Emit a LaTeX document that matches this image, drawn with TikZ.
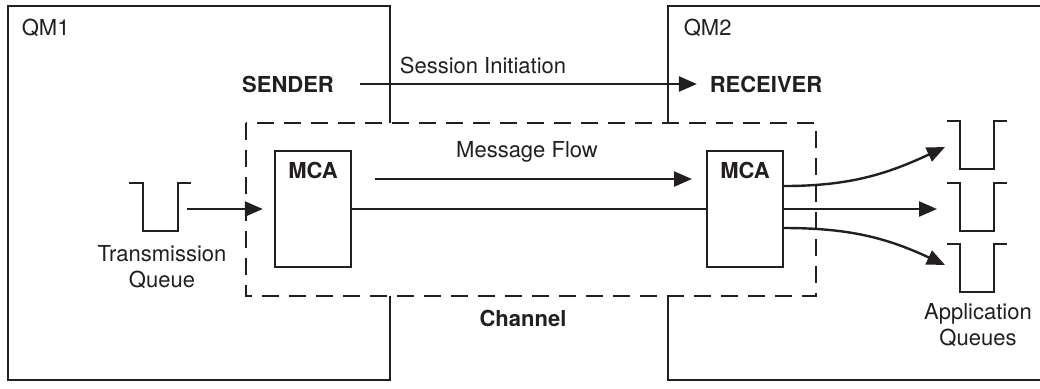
\documentclass[tikz,border=0pt]{standalone}
\usepackage{fontspec}
\setmainfont{TeX Gyre Heros}
\usepackage{tikz}
\usetikzlibrary{arrows.meta, positioning}
\usepackage{xcolor}
\definecolor{ink}{RGB}{35, 31, 32}

\begin{document}
\begin{tikzpicture}[x=0.5pt, y=-0.5pt, line width=1.2pt, ink,
    font=\fontsize{11}{13}\selectfont,
    >={Triangle[length=9pt, width=7.5pt]},
    mca/.style={draw, fill=white, minimum width=38pt, minimum height=58pt, inner sep=0pt},
    tag/.style={font=\fontsize{11}{13}\selectfont\bfseries},
    chan/.style={dash pattern=on 8.5pt off 5pt, fill=white}]
  \useasboundingbox (0,0) rectangle (1040,388);

  % Queue managers
  \draw (8,6) rectangle (390,380);
  \draw (1040,6) -- (668,6) -- (668,380) -- (1040,380);
  \node[anchor=west] (qm1) at (14,28) {QM1};
  \node[anchor=west] (qm2) at (676,28) {QM2};

  % Channel
  \draw[chan] (246,123) rectangle (816,296);
  \node[tag] (chLabel) at (523,318) {Channel};

  % Message channel agents
  \node[mca] (mcaL) at (313,209) {};
  \node[mca] (mcaR) at (745,209) {};
  \node[tag] (mcaLtag) at ([yshift=-10.5pt]mcaL.north) {MCA};
  \node[tag] (mcaRtag) at ([yshift=-10.5pt]mcaR.north) {MCA};
  \draw (mcaL.east) -- (mcaR.west);

  % Sender and receiver
  \node[tag] (sender) at (288,84) {SENDER};
  \node[tag] (receiver) at (766,84) {RECEIVER};
  \draw[->, shorten <=9pt, shorten >=2.5pt] (sender.east) -- (receiver.west);
  \node[anchor=west] (siLabel) at (392,65) {Session Initiation};

  % Message flow
  \coordinate (mfStart) at (375,179);
  \coordinate (mfEnd) at (692,179);
  \draw[->] (mfStart) -- (mfEnd);
  \node (mfLabel) at (527,152) {Message Flow};

  % Transmission queue
  \draw (129,183) -- (143,183) -- (143,231) -- (178,231) -- (178,183) -- (191,183);
  \coordinate (tqOut) at (187,209);
  \draw[->, shorten >=5.5pt] (tqOut) -- (mcaL.west);
  \node[align=center] (tqLabel) at (162,267) {Transmission\\Queue};

  % Application queues
  \foreach \t in {121, 183, 244}
    \draw (947,\t) -- (960,\t) -- (960,\t+48) -- (994,\t+48) -- (994,\t) -- (1007,\t);
  \coordinate (aq1) at (945,147);
  \coordinate (aq2) at (937,209);
  \coordinate (aq3) at (945,265);
  \draw[->] ([yshift=11.5pt]mcaR.east) to[out=0, in=205] (aq1);
  \draw[->] (mcaR.east) -- (aq2);
  \draw[->] ([yshift=-9.5pt]mcaR.east) to[out=0, in=155] (aq3);
  \node[align=center] (aqLabel) at (978,325) {Application\\Queues};
\end{tikzpicture}
\end{document}
